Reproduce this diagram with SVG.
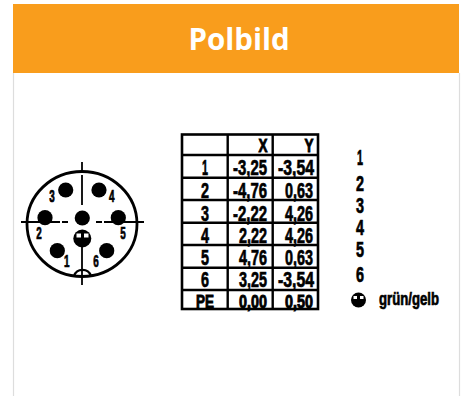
<svg xmlns="http://www.w3.org/2000/svg" width="465" height="396" viewBox="0 0 465 396">
<style>
.t{font-family:"Liberation Sans",Arial,sans-serif;font-weight:bold;fill:#000;stroke:#000;stroke-width:.7;text-anchor:middle}
.c{font-size:21.500px}
.p{font-size:18px;stroke-width:.9}
.s{font-size:16.500px}
.l{stroke:#000;fill:none}
.g{stroke:#000;stroke-width:2.400;fill:none}
</style>
<rect width="465" height="396" fill="#fff"/>
<g id="panel">
<path d="M13.500 73V396M459.500 73V396" stroke="#ddd" stroke-width="1.200" fill="none"/>
<rect x="13" y="4" width="446" height="69" fill="#f99d1c"/>
<text x="239" y="50" text-anchor="middle" font-family="'Open Sans',sans-serif" font-weight="700" font-size="29.500px" fill="#fff">Polbild</text>
</g>
<g id="pole-face">
<ellipse cx="82" cy="224" rx="55" ry="52.500" class="l" stroke-width="2.800"/>
<path d="M82 162V172M82 175V205M82 232V285M21 222H60M62 222H68M96 222H102M104 222H144" class="l" stroke-width="1.800"/>
<circle cx="65.700" cy="190" r="7.600"/>
<circle cx="99" cy="190" r="7.600"/>
<circle cx="45" cy="217.700" r="7.600"/>
<circle cx="82.300" cy="218" r="7.600"/>
<circle cx="118.300" cy="217.700" r="7.600"/>
<circle cx="57.300" cy="250.700" r="7.600"/>
<circle cx="106.700" cy="250.700" r="7.600"/>
<circle cx="82.300" cy="238.500" r="9"/>
<rect x="76.500" y="233.500" width="4.500" height="4" fill="#fff"/>
<rect x="84" y="233.500" width="4.500" height="4" fill="#fff"/>
<path d="M74 276A9 9 0 0 1 91 276" class="l" stroke-width="2.200"/>
<text class="t s" transform="translate(52 201.500) scale(.6 1)">3</text>
<text class="t s" transform="translate(111.700 201.500) scale(.6 1)">4</text>
<text class="t s" transform="translate(39 239) scale(.6 1)">2</text>
<text class="t s" transform="translate(123 239) scale(.6 1)">5</text>
<text class="t s" transform="translate(66.700 267) scale(.6 1)">1</text>
<text class="t s" transform="translate(96 267) scale(.6 1)">6</text>
</g>
<g id="table">
<rect x="182" y="134.500" width="136" height="174.500" class="l" stroke-width="2.600"/>
<path d="M227.700 134.500V309M272.700 134.500V309" class="g"/>
<path d="M182 155H318M182 177.700H318M182 200H318M182 222.700H318M182 245H318M182 267.700H318M182 290H318" class="g"/>
<g>
<text class="t p" x="263" y="151.500" textLength="9" lengthAdjust="spacingAndGlyphs">X</text>
<text class="t p" x="309" y="151.500" textLength="9" lengthAdjust="spacingAndGlyphs">Y</text>
<text class="t c" x="205" y="175" textLength="6" lengthAdjust="spacingAndGlyphs">1</text>
<text class="t c" x="250" y="175" textLength="34" lengthAdjust="spacingAndGlyphs">-3,25</text>
<text class="t c" x="296" y="175" textLength="36" lengthAdjust="spacingAndGlyphs">-3,54</text>
<text class="t c" x="205" y="198" textLength="8" lengthAdjust="spacingAndGlyphs">2</text>
<text class="t c" x="250" y="198" textLength="34" lengthAdjust="spacingAndGlyphs">-4,76</text>
<text class="t c" x="299" y="198" textLength="28" lengthAdjust="spacingAndGlyphs">0,63</text>
<text class="t c" x="205" y="220.500" textLength="8" lengthAdjust="spacingAndGlyphs">3</text>
<text class="t c" x="250" y="220.500" textLength="34" lengthAdjust="spacingAndGlyphs">-2,22</text>
<text class="t c" x="299" y="220.500" textLength="28" lengthAdjust="spacingAndGlyphs">4,26</text>
<text class="t c" x="205" y="242.500" textLength="8" lengthAdjust="spacingAndGlyphs">4</text>
<text class="t c" x="253" y="242.500" textLength="28" lengthAdjust="spacingAndGlyphs">2,22</text>
<text class="t c" x="299" y="242.500" textLength="28" lengthAdjust="spacingAndGlyphs">4,26</text>
<text class="t c" x="205" y="265" textLength="8" lengthAdjust="spacingAndGlyphs">5</text>
<text class="t c" x="253" y="265" textLength="28" lengthAdjust="spacingAndGlyphs">4,76</text>
<text class="t c" x="299" y="265" textLength="28" lengthAdjust="spacingAndGlyphs">0,63</text>
<text class="t c" x="205" y="287" textLength="8" lengthAdjust="spacingAndGlyphs">6</text>
<text class="t c" x="253" y="287" textLength="28" lengthAdjust="spacingAndGlyphs">3,25</text>
<text class="t c" x="296" y="287" textLength="36" lengthAdjust="spacingAndGlyphs">-3,54</text>
<text class="t p" x="205" y="308" textLength="18" lengthAdjust="spacingAndGlyphs">PE</text>
<text class="t p" x="253" y="308" textLength="28" lengthAdjust="spacingAndGlyphs">0,00</text>
<text class="t p" x="299" y="308" textLength="28" lengthAdjust="spacingAndGlyphs">0,50</text>
</g>
</g>
<g id="legend">
<text class="t c" x="360" y="165" textLength="6" lengthAdjust="spacingAndGlyphs">1</text>
<text class="t c" x="360" y="191" textLength="8" lengthAdjust="spacingAndGlyphs">2</text>
<text class="t c" x="360" y="213" textLength="8" lengthAdjust="spacingAndGlyphs">3</text>
<text class="t c" x="360" y="235" textLength="8" lengthAdjust="spacingAndGlyphs">4</text>
<text class="t c" x="360" y="257" textLength="8" lengthAdjust="spacingAndGlyphs">5</text>
<text class="t c" x="360" y="282" textLength="8" lengthAdjust="spacingAndGlyphs">6</text>
<circle cx="358.500" cy="300" r="7.500"/>
<rect x="353.500" y="296" width="3.500" height="3" fill="#fff"/>
<rect x="360" y="296" width="3.500" height="3" fill="#fff"/>
<text class="t" x="409" y="305" font-size="18px" textLength="60" lengthAdjust="spacingAndGlyphs">grün/gelb</text>
</g>
</svg>
